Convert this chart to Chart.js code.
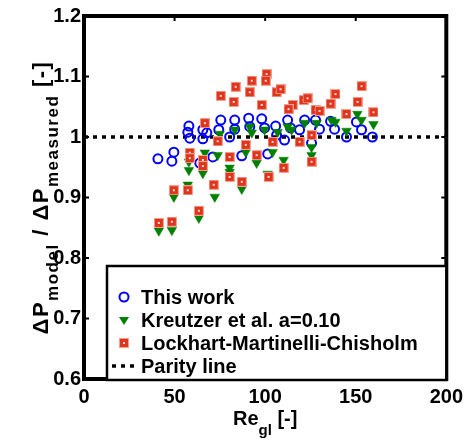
<!DOCTYPE html>
<html>
<head>
<meta charset="utf-8">
<script src="https://cdn.jsdelivr.net/npm/chart.js"></script>
<style>
  html, body { margin: 0; padding: 0; background: #fff; }
  #wrap { width: 469px; height: 441px; }
</style>
</head>
<body>
<div id="wrap"><canvas id="chart" width="469" height="441"></canvas></div>
<script>
// Re_gl values and pressure drop ratios
const thisWorkX = [40.8, 48.5, 49.6, 57.9, 57.3, 58.4, 65.6, 65.6, 67.8, 74.4, 75.5, 80.4, 83.2, 83.2, 90.9, 91.5, 98.1, 99.7, 105.8, 106.3, 110.7, 112.4, 114.0, 119.0, 121.8, 125.6, 127.8, 130.0, 136.1, 138.3, 144.9, 150.4, 153.2, 159.2, 63.9, 71.1, 87.1, 101.4]
const thisWorkY = [0.964, 0.960, 0.975, 1.018, 1.008, 0.998, 1.012, 0.997, 1.007, 1.012, 1.028, 1.000, 1.028, 1.013, 1.031, 1.017, 1.030, 1.015, 1.018, 1.003, 0.995, 1.028, 1.015, 1.012, 1.028, 0.990, 1.028, 1.013, 1.026, 1.013, 1.000, 1.025, 1.012, 1.000, 0.957, 0.967, 0.969, 0.972]

const kreutzerX = [74.9, 83.2, 91.5, 92.6, 99.7, 106.9, 112.4, 114.6, 121.8, 128.4, 136.6, 138.8, 144.9, 150.9, 153.2, 159.8, 66.7, 73.8, 89.3, 104.1, 57.9, 57.9, 65.6, 80.4, 80.4, 95.3, 110.2, 125.6, 125.6, 87.1, 72.2, 57.3, 49.6, 63.4, 48.5, 41.3, 101.4]
const kreutzerY = [1.005, 1.012, 1.017, 1.007, 1.012, 1.008, 1.017, 1.012, 1.023, 1.023, 1.028, 1.025, 1.010, 1.038, 1.028, 1.021, 0.974, 0.970, 0.975, 0.975, 0.959, 0.945, 0.940, 0.949, 0.942, 0.957, 0.962, 0.983, 0.970, 0.914, 0.901, 0.921, 0.901, 0.866, 0.846, 0.845, 0.939]

const lmcX = [100.8, 92.6, 100.3, 83.7, 91.5, 75.5, 106.3, 108.5, 82.6, 98.1, 115.2, 112.9, 66.7, 73.8, 89.3, 104.1, 119.0, 125.6, 121.2, 123.4, 127.8, 130.0, 138.8, 136.1, 153.2, 151.0, 159.8, 144.9, 58.4, 58.4, 65.6, 65.6, 80.4, 95.3, 110.2, 125.6, 80.4, 87.1, 101.9, 71.6, 57.3, 49.6, 63.4, 48.5, 41.3]
const lmcY = [1.104, 1.093, 1.093, 1.083, 1.074, 1.068, 1.074, 1.079, 1.058, 1.053, 1.053, 1.046, 1.023, 0.993, 0.987, 0.992, 0.992, 1.003, 1.061, 1.064, 1.045, 1.043, 1.071, 1.055, 1.084, 1.058, 1.041, 1.038, 0.974, 0.965, 0.962, 0.952, 0.967, 0.970, 0.949, 0.959, 0.934, 0.926, 0.934, 0.921, 0.912, 0.912, 0.878, 0.860, 0.858]

const parityX = [0, 200]
const parityY = [1, 1]

const seriesNames = ['This work', 'Kreutzer et al. a=0.10', 'Lockhart-Martinelli-Chisholm', 'Parity line']

const xTicks = [0, 50, 100, 150, 200]
const xTickLabels = ['0', '50', '100', '150', '200']
const yTicks = [0.6, 0.7, 0.8, 0.9, 1.0, 1.1, 1.2]
const yTickLabels = ['0.6', '0.7', '0.8', '0.9', '1', '1.1', '1.2']

const BLUE = '#0000ff'
const GREEN = '#008000'
const RED = '#e0341c'
const FONT = '"Liberation Sans", Arial, sans-serif'

function pts(xs, ys) {
    return xs.map(function (x, i) { return { x: x, y: ys[i] } })
}

// red square marker with the small light centre
const squareMarker = document.createElement('canvas')
squareMarker.width = 10
squareMarker.height = 10
;(function () {
    const c = squareMarker.getContext('2d')
    c.fillStyle = '#f2a090'
    c.fillRect(0, 0, 10, 10)
    c.fillStyle = RED
    c.fillRect(1, 1, 8, 8)
    c.fillStyle = '#ffe0d8'
    c.fillRect(4, 4, 2, 2)
})()

function drawText(ctx, parts, x, y, spacing) {
    // parts: [text, size, dy]
    ctx.letterSpacing = (spacing || 0) + 'px'
    let total = 0
    parts.forEach(function (p) {
        ctx.font = 'bold ' + p[1] + 'px ' + FONT
        total += ctx.measureText(p[0]).width
    })
    let cx = x - total / 2
    parts.forEach(function (p) {
        ctx.font = 'bold ' + p[1] + 'px ' + FONT
        ctx.fillText(p[0], cx, y + p[2])
        cx += ctx.measureText(p[0]).width
    })
    ctx.letterSpacing = '0px'
}

const framePlugin = {
    id: 'frame',
    afterDraw: function (chart) {
        const ctx = chart.ctx
        const a = chart.chartArea
        const xs = chart.scales.x
        const ys = chart.scales.y
        ctx.save()
        ctx.strokeStyle = '#000'
        ctx.lineWidth = 2
        ctx.beginPath()
        xTicks.forEach(function (v) {
            const px = xs.getPixelForValue(v)
            ctx.moveTo(px, a.bottom); ctx.lineTo(px, a.bottom - 5)
            ctx.moveTo(px, a.top); ctx.lineTo(px, a.top + 5)
        })
        yTicks.forEach(function (v) {
            const py = ys.getPixelForValue(v)
            ctx.moveTo(a.left, py); ctx.lineTo(a.left + 5, py)
            ctx.moveTo(a.right, py); ctx.lineTo(a.right - 5, py)
        })
        ctx.stroke()
        ctx.lineWidth = 4
        ctx.strokeRect(a.left, a.top, a.right - a.left, a.bottom - a.top)

        // axis titles with subscripts
        ctx.fillStyle = '#000'
        ctx.textBaseline = 'alphabetic'
        ctx.textAlign = 'left'
        drawText(ctx, [['Re', 20, 0], ['gl', 15, 10], [' [-]', 20, 0]], (a.left + a.right) / 2, 425, 0)

        ctx.translate(48, (a.top + a.bottom) / 2)
        ctx.rotate(-Math.PI / 2)
        drawText(ctx, [['\u0394P', 22, 0], ['model', 17, 10], [' / \u0394P', 22, 0], ['measured', 17, 10], [' [-]', 22, 0]], 0, 0, 1.5)
        ctx.restore()

        // legend box inside the axes
        const left = a.left + 23
        const right = a.right
        const bottom = a.bottom + 1
        const top = bottom - 114
        ctx.save()
        ctx.fillStyle = '#fff'
        ctx.fillRect(left, top, right - left, bottom - top)
        ctx.strokeStyle = '#000'
        ctx.lineWidth = 2.5
        ctx.strokeRect(left, top, right - left, bottom - top)
        ctx.font = 'bold 20px ' + FONT
        ctx.textBaseline = 'middle'
        ctx.fillStyle = '#000'
        const mx = left + 17
        const tx = left + 34
        seriesNames.forEach(function (name, i) {
            const ry = top + 31 + i * 23
            ctx.fillText(name, tx, ry + 1)
            if (i === 0) {
                ctx.strokeStyle = BLUE
                ctx.lineWidth = 2
                ctx.beginPath()
                ctx.arc(mx, ry, 4.5, 0, Math.PI * 2)
                ctx.stroke()
            } else if (i === 1) {
                ctx.fillStyle = GREEN
                ctx.beginPath()
                ctx.moveTo(mx - 5, ry - 3)
                ctx.lineTo(mx + 5, ry - 3)
                ctx.lineTo(mx, ry + 5)
                ctx.closePath()
                ctx.fill()
                ctx.fillStyle = '#000'
            } else if (i === 2) {
                ctx.drawImage(squareMarker, mx - 5, ry - 5)
            } else {
                ctx.strokeStyle = '#000'
                ctx.lineWidth = 3.5
                ctx.setLineDash([4, 5])
                ctx.beginPath()
                ctx.moveTo(mx - 12, ry)
                ctx.lineTo(mx + 14, ry)
                ctx.stroke()
                ctx.setLineDash([])
            }
        })
        ctx.restore()
    }
}

const ctx = document.getElementById('chart')
new Chart(ctx, {
    type: 'scatter',
    data: {
        datasets: [{
            label: seriesNames[0],
            data: pts(thisWorkX, thisWorkY),
            pointStyle: 'circle',
            pointRadius: 4.5,
            borderWidth: 2,
            borderColor: BLUE,
            backgroundColor: 'rgba(0,0,0,0)',
            order: 3
        }, {
            label: seriesNames[1],
            data: pts(kreutzerX, kreutzerY),
            pointStyle: 'triangle',
            rotation: 180,
            pointRadius: 5.5,
            borderWidth: 0.5,
            borderColor: GREEN,
            backgroundColor: GREEN,
            order: 2
        }, {
            label: seriesNames[2],
            data: pts(lmcX, lmcY),
            pointStyle: squareMarker,
            pointRadius: 5,
            order: 1
        }, {
            label: seriesNames[3],
            type: 'line',
            data: pts(parityX, parityY),
            borderColor: '#000',
            borderWidth: 3.5,
            borderDash: [4, 5],
            pointRadius: 0,
            order: 4
        }]
    },
    options: {
        responsive: false,
        animation: false,
        events: [],
        layout: { padding: { top: 16, right: 22, left: 0, bottom: 0 } },
        plugins: {
            legend: { display: false },
            tooltip: { enabled: false }
        },
        scales: {
            x: {
                type: 'linear',
                min: 0,
                max: 200,
                afterBuildTicks: function (scale) {
                    scale.ticks = xTicks.map(function (v) { return { value: v } })
                },
                afterFit: function (scale) { scale.height = 62 },
                grid: { display: false, drawTicks: false },
                border: { display: false },
                ticks: {
                    maxRotation: 0,
                    padding: 6,
                    color: '#000',
                    font: { family: FONT, size: 20, weight: 'bold' },
                    callback: function (v, i) { return xTickLabels[i] }
                }
            },
            y: {
                type: 'linear',
                min: 0.6,
                max: 1.2,
                afterBuildTicks: function (scale) {
                    scale.ticks = yTicks.map(function (v) { return { value: v } })
                },
                afterFit: function (scale) { scale.width = 84 },
                grid: { display: false, drawTicks: false },
                border: { display: false },
                ticks: {
                    padding: 3,
                    color: '#000',
                    font: { family: FONT, size: 20, weight: 'bold' },
                    callback: function (v, i) { return yTickLabels[i] }
                }
            }
        }
    },
    plugins: [framePlugin]
})
</script>
</body>
</html>
